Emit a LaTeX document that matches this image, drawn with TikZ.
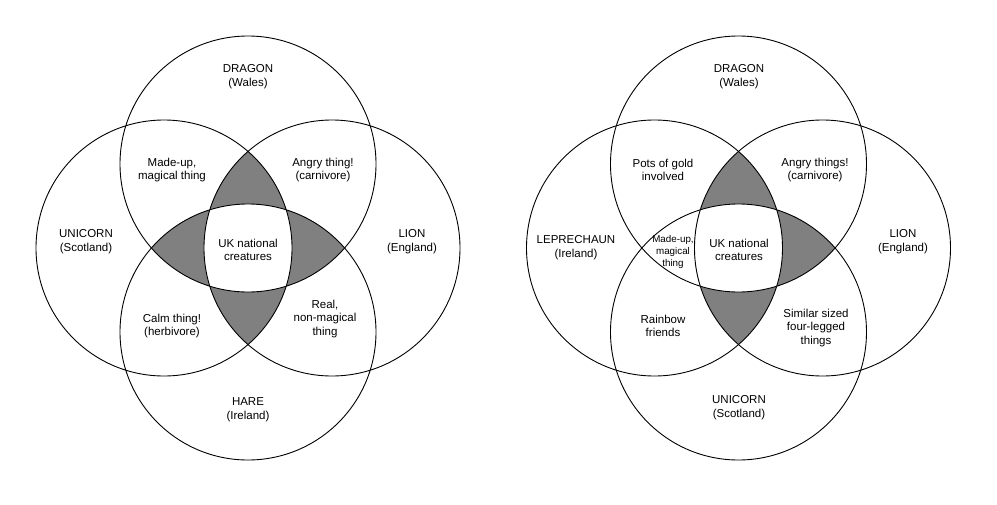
\documentclass[tikz,border=0pt]{standalone}
\usepackage{fontspec}
\setmainfont{Liberation Sans}
\definecolor{venngray}{RGB}{128,128,128}
\tikzset{
    label/.style={align=center, font=\fontsize{11.5}{13.7}\selectfont},
    tiny/.style={align=center, font=\fontsize{9.8}{11.7}\selectfont, inner sep=0pt},
    ring/.style={line width=0.9pt}
}
\begin{document}
\begin{tikzpicture}[x=1pt, y=-1pt]
    \useasboundingbox (0, 0) rectangle (997, 504);

    % left diagram
    \coordinate (lT) at (248, 164);
    \coordinate (lL) at (164, 248);
    \coordinate (lR) at (332, 248);
    \coordinate (lB) at (248, 332);
    % right diagram
    \coordinate (rT) at (738.5, 164);
    \coordinate (rL) at (654.5, 248);
    \coordinate (rR) at (822.5, 248);
    \coordinate (rB) at (738.5, 332);

    % three-way overlaps
    \foreach \a/\b/\c in {lT/lL/lR, lT/lL/lB, lT/lR/lB, lL/lR/lB, rT/rL/rR, rT/rR/rB, rL/rR/rB} {
        \begin{scope}
            \clip (\a) circle (128);
            \clip (\b) circle (128);
            \fill[venngray] (\c) circle (128);
        \end{scope}
    }
    % four-way overlap stays white
    \begin{scope}
        \clip (lT) circle (128); \clip (lL) circle (128); \clip (lR) circle (128);
        \fill[white] (lB) circle (128);
    \end{scope}
    \begin{scope}
        \clip (rT) circle (128); \clip (rL) circle (128); \clip (rR) circle (128);
        \fill[white] (rB) circle (128);
    \end{scope}

    \foreach \p in {lT, lL, lR, lB, rT, rL, rR, rB}
        \draw[ring] (\p) circle (128);

    % left labels
    \node[label] (dragonL) at (248, 77) {DRAGON\\(Wales)};
    \node[label] (madeupL) at (172, 170) {Made-up,\\magical thing};
    \node[label] (angryL) at (323, 170) {Angry thing!\\(carnivore)};
    \node[label] (unicornL) at (86, 242) {UNICORN\\(Scotland)};
    \node[label] (ukL) at (248, 250) {UK national\\creatures};
    \node[label] (lionL) at (412, 242) {LION\\(England)};
    \node[label] (calmL) at (172, 326) {Calm thing!\\(herbivore)};
    \node[label] (realL) at (325, 319) {Real,\\non-magical\\thing};
    \node[label] (hareL) at (248, 410) {HARE\\(Ireland)};

    % right labels
    \node[label] (dragonR) at (739, 77) {DRAGON\\(Wales)};
    \node[label] (goldR) at (663, 170) {Pots of gold\\involved};
    \node[label] (angryR) at (815, 170) {Angry things!\\(carnivore)};
    \node[label] (leprechaunR) at (576, 248) {LEPRECHAUN\\(Ireland)};
    \node[tiny] (madeupR) at (673, 252) {Made-up,\\magical\\thing};
    \node[label] (ukR) at (739, 250) {UK national\\creatures};
    \node[label] (lionR) at (903, 242) {LION\\(England)};
    \node[label] (rainbowR) at (663, 326) {Rainbow\\friends};
    \node[label] (similarR) at (816, 328) {Similar sized\\four-legged\\things};
    \node[label] (unicornR) at (739, 408) {UNICORN\\(Scotland)};
\end{tikzpicture}
\end{document}
